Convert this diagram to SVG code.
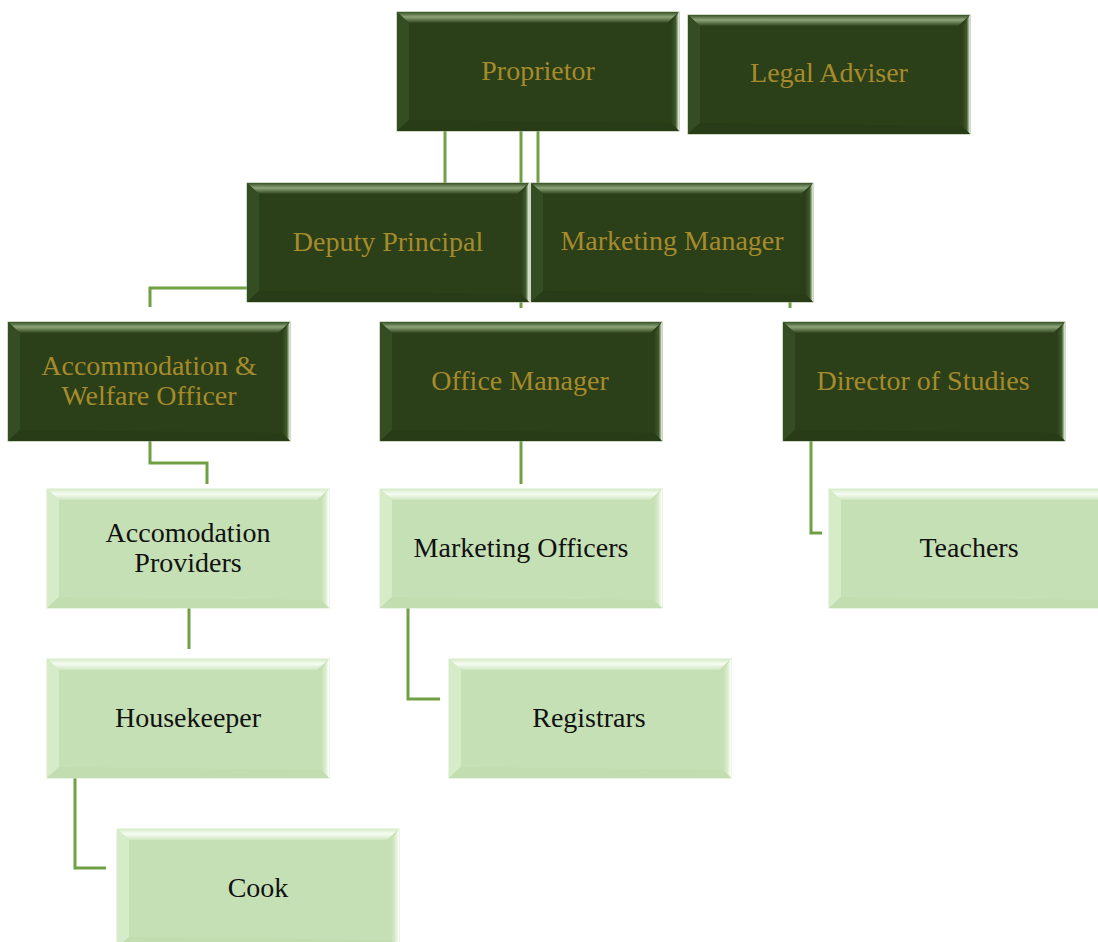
<svg xmlns="http://www.w3.org/2000/svg" xmlns:xlink="http://www.w3.org/1999/xlink" width="1098" height="942" viewBox="0 0 1098 942">
<style>
.conn{fill:none;stroke:#70a044;stroke-width:3}
.dt{font-family:'Liberation Serif','DejaVu Serif',serif;font-size:28px;fill:#a68b2c;text-anchor:middle}
.lt{font-family:'Liberation Serif','DejaVu Serif',serif;font-size:28px;fill:#111;text-anchor:middle}
</style>
<defs>
<linearGradient id="dTop" x1="0" y1="0" x2="0" y2="1"><stop offset="0" stop-color="#3a5227"/><stop offset="0.45" stop-color="#8ea57a"/><stop offset="1" stop-color="#2f441c"/></linearGradient>
<linearGradient id="dRight" x1="0" y1="0" x2="1" y2="0"><stop offset="0" stop-color="#2b3f19"/><stop offset="0.6" stop-color="#3f5a2b"/><stop offset="1" stop-color="#eef6e8"/></linearGradient>
<linearGradient id="lTop" x1="0" y1="0" x2="0" y2="1"><stop offset="0" stop-color="#d6ebc8"/><stop offset="0.45" stop-color="#f6fcf2"/><stop offset="1" stop-color="#cfe6c0"/></linearGradient>
<linearGradient id="lRight" x1="0" y1="0" x2="1" y2="0"><stop offset="0" stop-color="#c5e0b4"/><stop offset="0.55" stop-color="#d9edcc"/><stop offset="1" stop-color="#ffffff"/></linearGradient>
<symbol id="darkBox" width="282" height="119" viewBox="0 0 282 119" overflow="visible">
<rect x="0" y="0" width="282" height="119" fill="#2b3f19" stroke="#9fb08f" stroke-width="1"/>
<polygon points="0,0 282,0 270,11 12,11" fill="url(#dTop)"/>
<polygon points="0,0 12,11 12,108 0,119" fill="#354d23"/>
<polygon points="282,0 282,119 274,111 274,11" fill="url(#dRight)"/>
<polygon points="0,119 12,108 274,111 282,119" fill="#293c18"/>
</symbol>
<symbol id="lightBox" width="282" height="119" viewBox="0 0 282 119" overflow="visible">
<rect x="0" y="0" width="282" height="119" fill="#c5e0b4" stroke="#d8ebcb" stroke-width="1"/>
<polygon points="0,0 282,0 270,11 12,11" fill="url(#lTop)"/>
<polygon points="0,0 12,11 12,108 0,119" fill="#d6ecc8"/>
<polygon points="282,0 282,119 274,111 274,11" fill="url(#lRight)"/>
<polygon points="0,119 12,108 274,111 282,119" fill="#c2ddb0"/>
</symbol>
</defs>
<rect width="1098" height="942" fill="#ffffff"/>
<g id="connectors">
<path class="conn" d="M445,131V183"/>
<path class="conn" d="M521,131V308"/>
<path class="conn" d="M538,131V183"/>
<path class="conn" d="M790,290V308"/>
<path class="conn" d="M247,288H150V307"/>
<path class="conn" d="M150,441V463H207V484"/>
<path class="conn" d="M521,441V484"/>
<path class="conn" d="M811,441V533H822"/>
<path class="conn" d="M189,608V649"/>
<path class="conn" d="M408,608V699H440"/>
<path class="conn" d="M75,778V868H106"/>
</g>
<g id="proprietor"><use xlink:href="#darkBox" x="397" y="12"/><text class="dt" x="538" y="80">Proprietor</text></g>
<g id="legal-adviser"><use xlink:href="#darkBox" x="688" y="15"/><text class="dt" x="829" y="82">Legal Adviser</text></g>
<g id="deputy-principal"><use xlink:href="#darkBox" x="247" y="183"/><text class="dt" x="388" y="251">Deputy Principal</text></g>
<g id="marketing-manager"><use xlink:href="#darkBox" x="531" y="183"/><text class="dt" x="672" y="250">Marketing Manager</text></g>
<g id="accommodation-welfare"><use xlink:href="#darkBox" x="8" y="322"/><text class="dt" x="149" y="375">Accommodation &amp;</text><text class="dt" x="149" y="405">Welfare Officer</text></g>
<g id="office-manager"><use xlink:href="#darkBox" x="380" y="322"/><text class="dt" x="520" y="390">Office Manager</text></g>
<g id="director-of-studies"><use xlink:href="#darkBox" x="783" y="322"/><text class="dt" x="923" y="390">Director of Studies</text></g>
<g id="accomodation-providers"><use xlink:href="#lightBox" x="47" y="489"/><text class="lt" x="188" y="542">Accomodation</text><text class="lt" x="188" y="572">Providers</text></g>
<g id="marketing-officers"><use xlink:href="#lightBox" x="380" y="489"/><text class="lt" x="521" y="557">Marketing Officers</text></g>
<g id="teachers"><use xlink:href="#lightBox" x="829" y="489"/><text class="lt" x="969" y="557">Teachers</text></g>
<g id="housekeeper"><use xlink:href="#lightBox" x="47" y="659"/><text class="lt" x="188" y="727">Housekeeper</text></g>
<g id="registrars"><use xlink:href="#lightBox" x="449" y="659"/><text class="lt" x="589" y="727">Registrars</text></g>
<g id="cook"><use xlink:href="#lightBox" x="117" y="829"/><text class="lt" x="258" y="897">Cook</text></g>
</svg>
